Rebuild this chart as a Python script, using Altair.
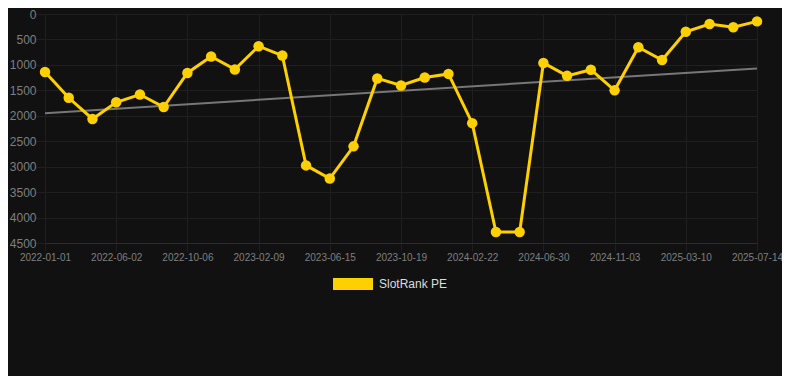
import altair as alt
import pandas as pd

dates = [
    "2022-01-01", "2022-02-20", "2022-04-11", "2022-06-02", "2022-07-14", "2022-08-25",
    "2022-10-06", "2022-11-17", "2022-12-29", "2023-02-09", "2023-03-23", "2023-05-04",
    "2023-06-15", "2023-07-27", "2023-09-07", "2023-10-19", "2023-11-30", "2024-01-11",
    "2024-02-22", "2024-04-04", "2024-05-17", "2024-06-30", "2024-08-11", "2024-09-22",
    "2024-11-03", "2024-12-15", "2025-01-26", "2025-03-10", "2025-04-21", "2025-06-02",
    "2025-07-14",
]
ranks = [
    1139, 1646, 2063, 1734, 1582, 1829, 1158, 835, 1089, 633, 816, 2975,
    3234, 2601, 1266, 1405, 1247, 1177, 2145, 4285, 4285, 962, 1215, 1095,
    1500, 652, 905, 348, 196, 260, 145,
]
tick_dates = ["2022-01-01", "2022-06-02", "2022-10-06", "2023-02-09", "2023-06-15",
              "2023-10-19", "2024-02-22", "2024-06-30", "2024-11-03", "2025-03-10",
              "2025-07-14"]
trend_dates = ["2022-01-01", "2025-07-14"]
trend_values = [1950, 1070]
series_name = "SlotRank PE"

df = pd.DataFrame({"date": dates, "rank": ranks, "series": series_name})
tdf = pd.DataFrame({"date": trend_dates, "rank": trend_values})

YELLOW = "#FFD000"
GRID = "#1f1f1f"
LABEL = "#7f7f7f"

x = alt.X("date:O", sort=dates, title=None,
          scale=alt.Scale(type="point", padding=0),
          axis=alt.Axis(values=tick_dates, labelAngle=0, labelFontSize=10,
                        labelColor=LABEL, labelPadding=1, ticks=True, tickSize=8,
                        tickColor=GRID, domain=True, domainColor="#2c2c2c",
                        grid=True, gridColor=GRID,
                        labelFont="Liberation Sans", labelOverlap=False))
y = alt.Y("rank:Q", title=None,
          scale=alt.Scale(domain=[0, 4500], reverse=True, nice=False, zero=False),
          axis=alt.Axis(values=list(range(0, 4501, 500)), format="d", labelFontSize=12,
                        labelColor=LABEL, labelPadding=0, ticks=True, tickSize=9,
                        tickColor=GRID, domain=False, grid=True, gridColor=GRID,
                        labelFont="Liberation Sans", labelOverlap=False))

color = alt.Color("series:N", title=None,
                  scale=alt.Scale(domain=[series_name], range=[YELLOW]),
                  legend=alt.Legend(orient="none", legendX=288, legendY=250,
                                    symbolType="M-1,-0.3H1V0.3H-1Z", symbolSize=1600,
                                    symbolStrokeWidth=0, symbolFillColor=YELLOW,
                                    labelColor="#dddddd", labelFontSize=12,
                                    labelFont="Liberation Sans", labelOffset=6))

trend = alt.Chart(tdf).mark_line(color="#777777", strokeWidth=2).encode(x=x, y=y)
line = alt.Chart(df).mark_line(strokeWidth=3).encode(x=x, y=y, color=color)
pts = alt.Chart(df).mark_circle(size=110, opacity=1).encode(x=x, y=y, color=color)

chart = alt.layer(trend, line, pts).properties(
    width=712, height=229, background="#111111",
    autosize=alt.AutoSizeParams(type="none"),
    padding={"left": 37, "top": 6, "right": 25, "bottom": 133},
).configure_view(stroke=None)

chart.save("out.html", embed_options={"renderer": "svg", "actions": False})
